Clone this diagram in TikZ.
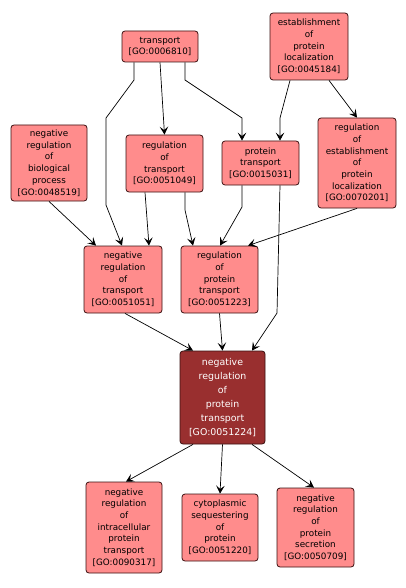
\documentclass[tikz,border=0pt]{standalone}
\usepackage{fontspec}
\setsansfont{DejaVu Sans}
\usetikzlibrary{arrows.meta,positioning}
\definecolor{goFill}{HTML}{FF8C8C}
\definecolor{goDark}{HTML}{992F2F}
\definecolor{goStroke}{HTML}{3A1010}

\begin{document}
\begin{tikzpicture}[
    x=1pt, y=-1pt,
    >={Stealth[length=8pt,width=8.5pt,inset=3.5pt]},
    goNode/.style={
        rectangle, rounded corners=3pt,
        draw=goStroke, line width=0.8pt,
        fill=goFill,
        font=\sffamily\fontsize{8.8}{11.7}\selectfont,
        align=center, inner sep=1pt
    },
    focusNode/.style={
        goNode, fill=goDark, text=white,
        font=\sffamily\fontsize{9.4}{14}\selectfont
    },
    edge/.style={->, line width=0.7pt, draw=black}
]
\useasboundingbox (0,0) rectangle (406,588);

% top row
\node[goNode, minimum width=76pt, minimum height=31pt] (Transport) at (160,46.5)
  {transport\\{[GO:0006810]}};
\node[goNode, minimum width=78pt, minimum height=67pt] (EstabLoc) at (309,46.5)
  {establishment\\of\\protein\\localization\\{[GO:0045184]}};

% second row
\node[goNode, minimum width=76pt, minimum height=76pt] (NegBio) at (49,163)
  {negative\\regulation\\of\\biological\\process\\{[GO:0048519]}};
\node[goNode, minimum width=77pt, minimum height=57pt] (RegTrans) at (164.5,163.5)
  {regulation\\of\\transport\\{[GO:0051049]}};
\node[goNode, minimum width=77pt, minimum height=44pt] (ProtTrans) at (260.5,163)
  {protein\\transport\\{[GO:0015031]}};
\node[goNode, minimum width=78pt, minimum height=90pt] (RegEstab) at (357,163)
  {regulation\\of\\establishment\\of\\protein\\localization\\{[GO:0070201]}};

% third row
\node[goNode, minimum width=78pt, minimum height=67pt] (NegTrans) at (123,279.5)
  {negative\\regulation\\of\\transport\\{[GO:0051051]}};
\node[goNode, minimum width=77pt, minimum height=67pt] (RegProt) at (219.5,279.5)
  {regulation\\of\\protein\\transport\\{[GO:0051223]}};

% the term itself
\node[focusNode, minimum width=85pt, minimum height=93pt] (NegProt) at (222.5,397.5)
  {negative\\regulation\\of\\protein\\transport\\{[GO:0051224]}};

% children
\node[goNode, minimum width=76pt, minimum height=91pt] (NegIntra) at (124,527.5)
  {negative\\regulation\\of\\intracellular\\protein\\transport\\{[GO:0090317]}};
\node[goNode, minimum width=76pt, minimum height=67pt] (CytoSeq) at (220,527.5)
  {cytoplasmic\\sequestering\\of\\protein\\{[GO:0051220]}};
\node[goNode, minimum width=77pt, minimum height=79pt] (NegSecr) at (315.5,527.5)
  {negative\\regulation\\of\\protein\\secretion\\{[GO:0050709]}};

\draw[edge] ([xshift=-26pt]Transport.south) -- (134,80) -- (106,118) -- (106,205)
  -- ([xshift=-1pt]NegTrans.north);
\draw[edge] (Transport.south) -- (RegTrans.north);
\draw[edge] ([xshift=25pt]Transport.south) -- (185,80) -- (242,118)
  -- ([xshift=-18.5pt]ProtTrans.north);
\draw[edge] ([xshift=-19pt]EstabLoc.south) -- (280,118) -- ([xshift=19.5pt]ProtTrans.north);
\draw[edge] ([xshift=20pt]EstabLoc.south) -- (RegEstab.north);
\draw[edge] (NegBio.south) -- ([xshift=-27pt]NegTrans.north);
\draw[edge] ([xshift=-19.5pt]RegTrans.south) -- ([xshift=26pt]NegTrans.north);
\draw[edge] ([xshift=20.5pt]RegTrans.south) -- (185,210) -- ([xshift=-26.5pt]RegProt.north);
\draw[edge] ([xshift=-18.5pt]ProtTrans.south) -- (242,207) -- ([xshift=0.5pt]RegProt.north);
\draw[edge] ([xshift=19.5pt]ProtTrans.south) -- (277,313) -- ([xshift=29.5pt]NegProt.north);
\draw[edge] (RegEstab.south) -- ([xshift=28.5pt]RegProt.north);
\draw[edge] ([xshift=2pt]NegTrans.south) -- ([xshift=-29.5pt]NegProt.north);
\draw[edge] (RegProt.south) -- (NegProt.north);
\draw[edge] ([xshift=-29.5pt]NegProt.south) -- ([xshift=2pt]NegIntra.north);
\draw[edge] (NegProt.south) -- (CytoSeq.north);
\draw[edge] ([xshift=29.5pt]NegProt.south) -- ([xshift=-1.5pt]NegSecr.north);

\end{tikzpicture}
\end{document}
